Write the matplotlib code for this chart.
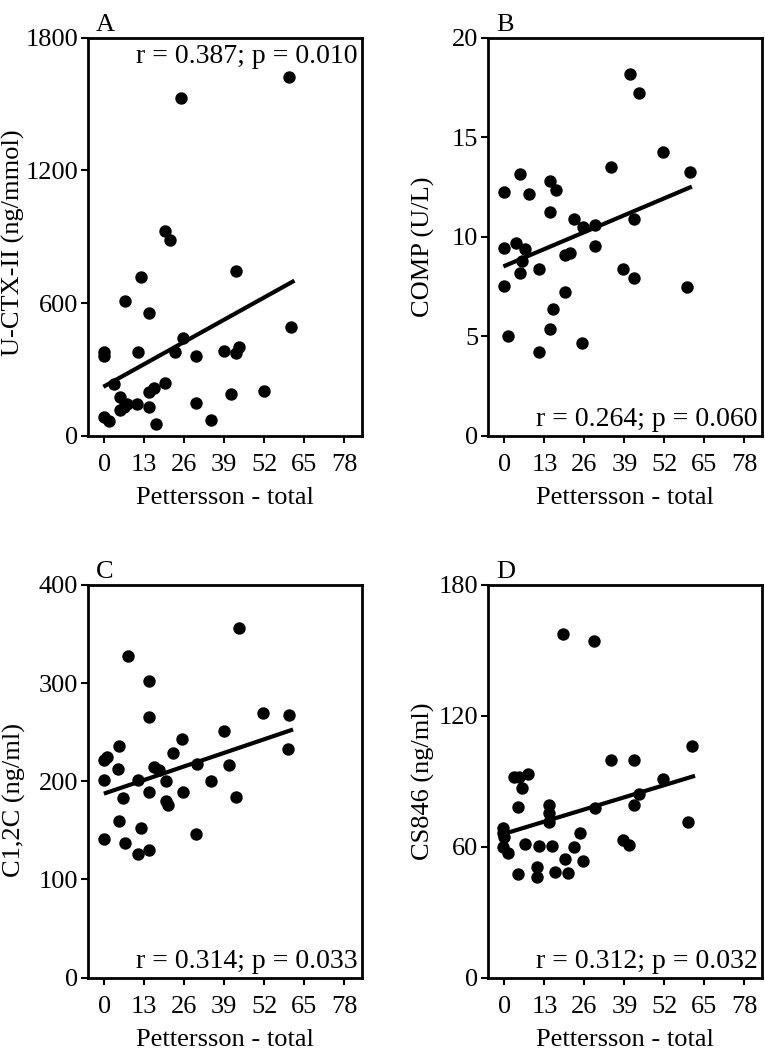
#
# Pettersson total vs. biomarkers, four scatter panels
#
import matplotlib
matplotlib.use("Agg")
import matplotlib.pyplot as plt

plt.rcParams["font.family"] = ["Liberation Serif", "DejaVu Serif"]
plt.rcParams["font.size"] = 19

#
# Panel A: U-CTX-II
#
a_x = [59.9, 24.9, 19.8, 21.2, 42.8, 11.9, 6.8, 14.6, 60.8, 25.6, -0.2, 0.0,
       10.8, 23.1, 29.8, 38.8, 43.7, 42.8, 19.8, 16.0, 14.4, 3.0, 5.0, 5.2,
       7.4, 10.6, 14.6, 29.9, 41.2, 51.8, 0.0, 1.4, 16.8, 34.7, 6.3]
a_y = [1621, 1526, 924, 887, 746, 716, 608, 555, 490, 442, 380, 362,
       377, 377, 359, 385, 403, 374, 238, 214, 196, 234, 176, 118,
       143, 143, 128, 148, 189, 204, 83, 68, 53, 72, 128]
a_fit_x = [0.3, 61.2]
a_fit_y = [226, 697]

#
# Panel B: COMP
#
b_x = [40.9, 43.8, 51.6, 34.8, 60.4, 5.1, -0.2, 8.1, 14.8, 16.8, 14.9, 22.5,
       25.4, 29.4, 42.2, 3.8, 6.8, -0.2, 29.4, 19.7, 21.3, 5.7, 5.1, 11.4,
       38.7, 42.2, -0.2, 59.2, 19.7, 15.7, 14.9, 1.1, 11.1, 25.1]
b_y = [18.17, 17.25, 14.24, 13.53, 13.28, 13.16, 12.26, 12.13, 12.80, 12.35,
       11.25, 10.91, 10.49, 10.57, 10.91, 9.70, 9.39, 9.43, 9.56, 9.09, 9.17,
       8.80, 8.18, 8.38, 8.38, 7.92, 7.53, 7.48, 7.20, 6.35, 5.34, 5.00, 4.21,
       4.66]
b_fit_x = [0.3, 60.3]
b_fit_y = [8.55, 12.48]

#
# Panel C: C1,2C
#
c_x = [43.9, 7.8, 14.6, 14.6, 51.7, 60.1, 39.0, 25.1, 59.6, 4.9, 0.9, -0.2,
       22.4, 4.3, 16.3, 17.7, 30.0, 40.6, 0.0, 10.8, 20.0, 34.7, 14.6, 25.5,
       6.0, 20.0, 20.6, 42.8, 4.9, 11.9, 29.8, 0.0, 6.7, 14.6, 10.8]
c_y = [356, 328, 302, 265, 269, 267, 251, 243, 233, 236, 225, 222,
       229, 212, 214, 211, 218, 216, 201, 201, 200, 200, 189, 189,
       183, 180, 176, 184, 159, 152, 146, 141, 137, 130, 126]
c_fit_x = [0.5, 60.7]
c_fit_y = [188, 252]

#
# Panel D: CS846
#
d_x = [19.1, 29.0, 61.0, 34.7, 42.1, 3.1, 4.7, 7.7, 5.8, 51.4, 43.8, 42.1,
       4.4, 14.6, 29.3, 14.6, 14.6, 59.6, -0.5, -0.5, 0.0, 24.6, 38.6, 40.5,
       -0.5, 1.1, 6.6, 11.3, 15.6, 22.6, 19.7, 25.5, 10.7, 4.4, 10.7, 16.4,
       20.8]
d_y = [157.7, 154.2, 106.3, 99.9, 99.9, 91.9, 91.9, 93.4, 87.0, 91.1, 84.0,
       79.0, 78.2, 79.0, 77.5, 75.2, 71.4, 71.1, 68.4, 66.1, 64.6, 66.1, 63.0,
       60.8, 59.7, 57.0, 61.2, 60.3, 60.3, 59.7, 54.2, 53.2, 50.9, 47.5, 45.9,
       48.6, 47.8]
d_fit_x = [-1.0, 61.3]
d_fit_y = [65.5, 92.2]

x_ticks = [0, 13, 26, 39, 52, 65, 78]

panels = [
    ("A", a_x, a_y, a_fit_x, a_fit_y, "U-CTX-II (ng/mmol)", [0, 600, 1200, 1800],
     "r = 0.387; p = 0.010", "top"),
    ("B", b_x, b_y, b_fit_x, b_fit_y, "COMP (U/L)", [0, 5, 10, 15, 20],
     "r = 0.264; p = 0.060", "bottom"),
    ("C", c_x, c_y, c_fit_x, c_fit_y, "C1,2C (ng/ml)", [0, 100, 200, 300, 400],
     "r = 0.314; p = 0.033", "bottom"),
    ("D", d_x, d_y, d_fit_x, d_fit_y, "CS846 (ng/ml)", [0, 60, 120, 180],
     "r = 0.312; p = 0.032", "bottom"),
]

# axes boxes in figure fractions (left, bottom, width, height)
boxes = [
    [0.115, 0.585, 0.358, 0.379],
    [0.638, 0.585, 0.358, 0.379],
    [0.115, 0.069, 0.358, 0.374],
    [0.638, 0.069, 0.358, 0.374],
]
# y label centres in axes fractions
ylabel_pos = [(-0.272, 0.485), (-0.237, 0.475), (-0.270, 0.452), (-0.237, 0.50)]

fig = plt.figure(figsize=(7.65, 10.5), dpi=100)

for (letter, xs, ys, fx, fy, ylabel, yticks, stat, where), box, lpos in zip(
        panels, boxes, ylabel_pos):
    ax = fig.add_axes(box)
    ax.scatter(xs, ys, s=80, color="black", zorder=3, linewidths=0)
    ax.plot(fx, fy, color="black", linewidth=3, zorder=2)
    ax.set_xlim(-5.3, 83.7)
    ax.set_ylim(yticks[0], yticks[-1])
    ax.set_xticks(x_ticks)
    ax.set_yticks(yticks)
    ax.set_xlabel("Pettersson - total", labelpad=8)
    ax.set_ylabel(ylabel, va="center")
    ax.yaxis.set_label_coords(*lpos)
    ax.tick_params(direction="out", length=5, width=1.5)
    ax.tick_params(axis="x", pad=8)
    ax.tick_params(axis="y", pad=2)
    for spine in ax.spines.values():
        spine.set_linewidth(2)
    ax.text(0.03, 1.005, letter, transform=ax.transAxes, ha="left", va="bottom")
    if where == "top":
        ax.text(0.985, 0.985, stat, transform=ax.transAxes, ha="right", va="top",
                fontsize=20)
    else:
        ax.text(0.985, 0.01, stat, transform=ax.transAxes, ha="right", va="bottom",
                fontsize=20)

plt.savefig("out.png", dpi=100)
